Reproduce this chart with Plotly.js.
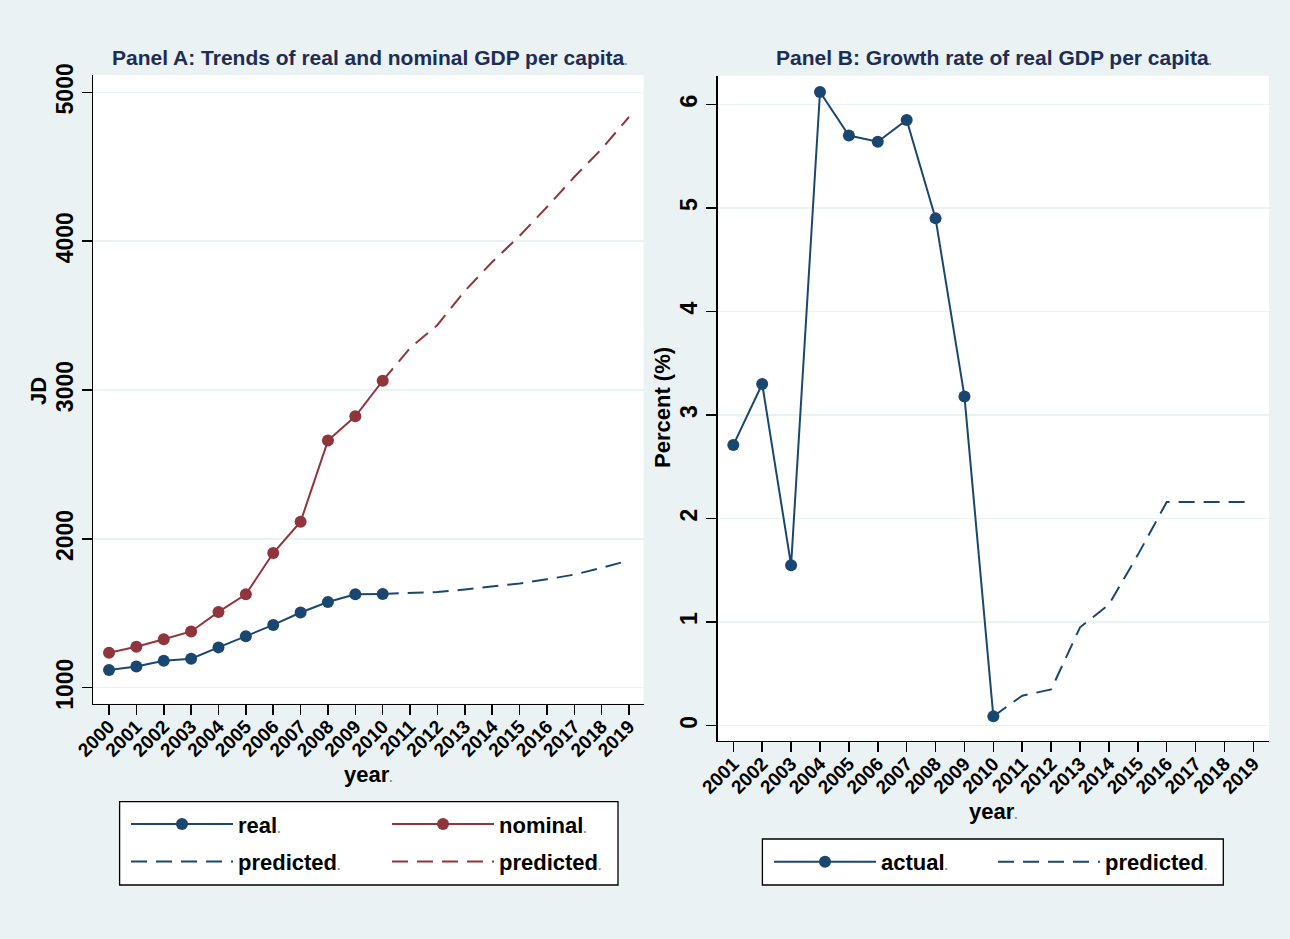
<!DOCTYPE html>
<html>
<head>
<meta charset="utf-8">
<script src="https://cdn.plot.ly/plotly-3.0.1.min.js"></script>
<style>html,body{margin:0;padding:0;background:#EAF2F3;}#chart{width:1290px;height:939px;}</style>
</head>
<body>
<div id="chart"></div>
<script>
// ---- Panel A data (JD) ----
const yearsA = [2000,2001,2002,2003,2004,2005,2006,2007,2008,2009,2010,2011,2012,2013,2014,2015,2016,2017,2018,2019];
const actualYearsA = [2000,2001,2002,2003,2004,2005,2006,2007,2008,2009,2010];
const realGDP    = [1119,1143,1181,1195,1271,1345,1422,1505,1576,1628,1630];
const nominalGDP = [1235,1275,1326,1378,1509,1628,1905,2115,2660,2823,3062];
const predYearsA = [2010,2011,2012,2013,2014,2015,2016,2017,2018,2019];
const predReal    = [1630,1637,1643,1660,1680,1700,1728,1760,1805,1855];
const predNominal = [3062,3282,3437,3665,3860,4035,4229,4431,4619,4834];
const yTicksA = [1000,2000,3000,4000,5000];

// ---- Panel B data (percent) ----
const yearsB = [2001,2002,2003,2004,2005,2006,2007,2008,2009,2010,2011,2012,2013,2014,2015,2016,2017,2018,2019];
const actualYearsB = [2001,2002,2003,2004,2005,2006,2007,2008,2009,2010];
const growthActual = [2.71,3.30,1.55,6.12,5.70,5.64,5.85,4.90,3.18,0.09];
const predYearsB = [2010,2011,2012,2013,2014,2015,2016,2017,2018,2019];
const growthPred = [0.09,0.29,0.35,0.95,1.17,1.65,2.16,2.16,2.16,2.16];
const yTicksB = [0,1,2,3,4,5,6];

const NAVY = '#1A476F', MAROON = '#90353B', BG = '#EAF2F3';
const dot = '<span style="color:#8a8a8a;font-size:12px">.</span>';
const FONT = 'Liberation Sans, Arial, sans-serif';
const dash = '16px,9px';

const traces = [
  {x: actualYearsA, y: realGDP, name: 'real' + dot, type: 'scatter', mode: 'lines+markers',
   line: {color: NAVY, width: 2}, marker: {color: NAVY, size: 12}, xaxis: 'x', yaxis: 'y', legend: 'legend'},
  {x: actualYearsA, y: nominalGDP, name: 'nominal' + dot, type: 'scatter', mode: 'lines+markers',
   line: {color: MAROON, width: 2}, marker: {color: MAROON, size: 12}, xaxis: 'x', yaxis: 'y', legend: 'legend2'},
  {x: predYearsA, y: predReal, name: 'predicted' + dot, type: 'scatter', mode: 'lines',
   line: {color: NAVY, width: 2, dash: dash}, xaxis: 'x', yaxis: 'y', legend: 'legend3'},
  {x: predYearsA, y: predNominal, name: 'predicted' + dot, type: 'scatter', mode: 'lines',
   line: {color: MAROON, width: 2, dash: dash}, xaxis: 'x', yaxis: 'y', legend: 'legend4'},
  {x: actualYearsB, y: growthActual, name: 'actual' + dot, type: 'scatter', mode: 'lines+markers',
   line: {color: NAVY, width: 2}, marker: {color: NAVY, size: 12}, xaxis: 'x2', yaxis: 'y2', legend: 'legend5'},
  {x: predYearsB, y: growthPred, name: 'predicted' + dot, type: 'scatter', mode: 'lines',
   line: {color: NAVY, width: 2, dash: dash}, xaxis: 'x2', yaxis: 'y2', legend: 'legend6'}
];

const W = 1290, H = 939;
const px = v => v / W;
const py = v => 1 - v / H;

const xTickFont = {family: FONT, size: 19, color: '#000', weight: 'bold'};
const yTickFont = {family: FONT, size: 23, color: '#000', weight: 'bold'};
const titleFont = {family: FONT, size: 22, color: '#000', weight: 'bold'};

function xAxis(domain, range, vals, anchor) {
  return {
    domain: domain, range: range, anchor: anchor,
    tickmode: 'array', tickvals: vals, ticktext: vals.map(String), tickangle: -45,
    ticks: 'outside', ticklen: 10, tickwidth: 1.5, tickcolor: '#000', ticklabelstandoff: -7,
    showline: true, linecolor: '#000', linewidth: 1.5, showgrid: false, zeroline: false,
    tickfont: xTickFont, fixedrange: true
  };
}
function yAxis(domain, range, vals, anchor) {
  return {
    domain: domain, range: range, anchor: anchor,
    tickmode: 'array', tickvals: vals, ticktext: vals.map(String), tickangle: -90,
    ticks: 'outside', ticklen: 10, tickwidth: 1.5, tickcolor: '#000',
    showline: true, linecolor: '#000', linewidth: 1.5, showgrid: true, gridcolor: BG, gridwidth: 1.5,
    zeroline: false, tickfont: yTickFont, fixedrange: true
  };
}
function leg(x, y) {
  return {x: x, y: y, xanchor: 'left', yanchor: 'middle', bgcolor: 'rgba(0,0,0,0)', borderwidth: 0,
          itemwidth: 102, font: {family: FONT, size: 22, color: '#000', weight: 'bold'}, orientation: 'v'};
}
function txt(text, x, y, font, angle) {
  return {text: text, xref: 'paper', yref: 'paper', x: px(x), y: py(y), xanchor: 'center', yanchor: 'middle',
          showarrow: false, font: font, textangle: angle || 0};
}

const panelTitleFont = {family: FONT, size: 21, color: '#1E2D53', weight: 'bold'};

const layout = {
  width: W, height: H, margin: {l: 0, r: 0, t: 0, b: 0},
  paper_bgcolor: BG, plot_bgcolor: '#FFFFFF', showlegend: true,
  xaxis:  xAxis([px(93.3), px(643.6)], [1999.426, 2019.533], yearsA, 'y'),
  yaxis:  yAxis([py(703.5), py(75)], [894, 5116], yTicksA, 'x'),
  xaxis2: xAxis([px(717.7), px(1269)], [2000.46, 2019.54], yearsB, 'y2'),
  yaxis2: yAxis([py(740.7), py(75.7)], [-0.145, 6.278], yTicksB, 'x2'),
  legend:  leg(px(126), py(824.3)),
  legend2: leg(px(387), py(824.3)),
  legend3: leg(px(126), py(861.7)),
  legend4: leg(px(387), py(861.7)),
  legend5: leg(px(769), py(862)),
  legend6: leg(px(993), py(862)),
  shapes: [
    {type: 'rect', xref: 'paper', yref: 'paper', x0: px(119.6), x1: px(618), y0: py(885), y1: py(801.7),
     line: {color: '#000', width: 1.3}, fillcolor: '#FFFFFF', layer: 'below'},
    {type: 'rect', xref: 'paper', yref: 'paper', x0: px(762.4), x1: px(1223.3), y0: py(885), y1: py(839),
     line: {color: '#000', width: 1.3}, fillcolor: '#FFFFFF', layer: 'below'}
  ],
  annotations: [
    txt('Panel A: Trends of real and nominal GDP per capita' + dot, 370, 58, panelTitleFont),
    txt('Panel B: Growth rate of real GDP per capita' + dot, 994, 58, panelTitleFont),
    txt('year' + dot, 369, 774, titleFont),
    txt('year' + dot, 994, 811, titleFont),
    txt('JD', 38, 391, titleFont, -90),
    txt('Percent (%)', 662, 408, titleFont, -90)
  ]
};

Plotly.newPlot('chart', traces, layout, {displayModeBar: false, staticPlot: true});
</script>
</body>
</html>
